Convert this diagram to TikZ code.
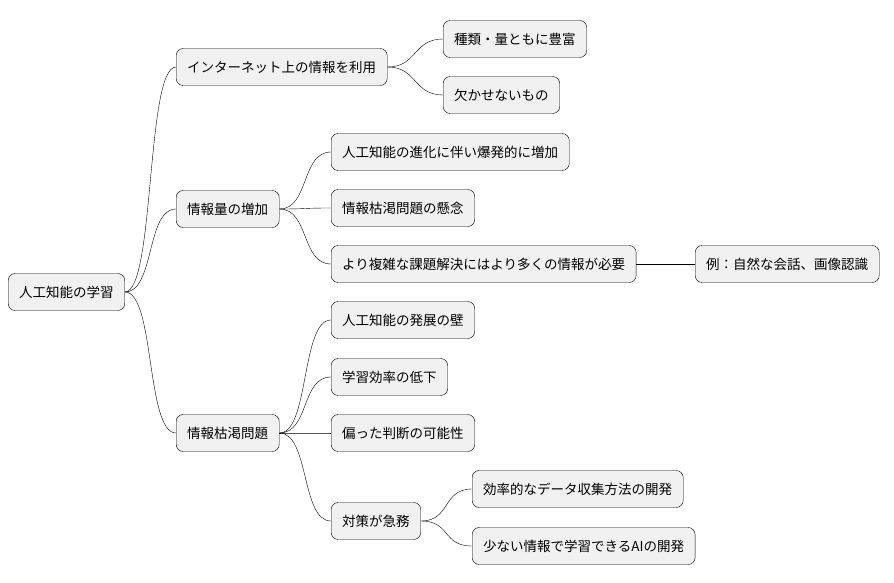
\documentclass[tikz,border=0pt]{standalone}
\usepackage{fontspec}
\setmainfont{Noto Sans CJK JP}
\usepackage{tikz}
\definecolor{mmfill}{RGB}{241,241,241}
\tikzstyle{topic} = [rectangle, rounded corners=7pt, draw=black, fill=mmfill, anchor=west, minimum height=37pt, inner xsep=11pt, font=\fontsize{13.5}{16}\selectfont]
\tikzstyle{branch} = [thin, black]

\begin{document}
\begin{tikzpicture}[x=1pt, y=-1pt]
\useasboundingbox (0,0) rectangle (894,583);
% Root and first level
\node (root) [topic] at (8,292) {人工知能の学習};
\node (web) [topic] at (176,67) {インターネット上の情報を利用};
\node (grow) [topic] at (176,209) {情報量の増加};
\node (dry) [topic] at (176,433) {情報枯渇問題};

% Under web
\node (rich) [topic] at (443,39) {種類・量ともに豊富};
\node (need) [topic] at (443,95) {欠かせないもの};

% Under grow
\node (boom) [topic] at (331,152) {人工知能の進化に伴い爆発的に増加};
\node (worry) [topic] at (331,208) {情報枯渇問題の懸念};
\node (more) [topic] at (331,264) {より複雑な課題解決にはより多くの情報が必要};
\node (eg) [topic] at (695,264) {例：自然な会話、画像認識};

% Under dry
\node (wall) [topic] at (331,320) {人工知能の発展の壁};
\node (eff) [topic] at (331,377) {学習効率の低下};
\node (bias) [topic] at (331,433) {偏った判断の可能性};
\node (urgent) [topic] at (331,521) {対策が急務};
\node (collect) [topic] at (472,489) {効率的なデータ収集方法の開発};
\node (less) [topic] at (472,546) {少ない情報で学習できるAIの開発};

% Branches
\foreach \p/\c in {root/web, root/grow, root/dry, web/rich, web/need,
  grow/boom, grow/worry, grow/more, more/eg, dry/wall, dry/eff, dry/bias,
  dry/urgent, urgent/collect, urgent/less}
  \draw[branch] (\p.east) .. controls +(30,0) and +(-30,0) .. (\c.west);
\end{tikzpicture}
\end{document}
